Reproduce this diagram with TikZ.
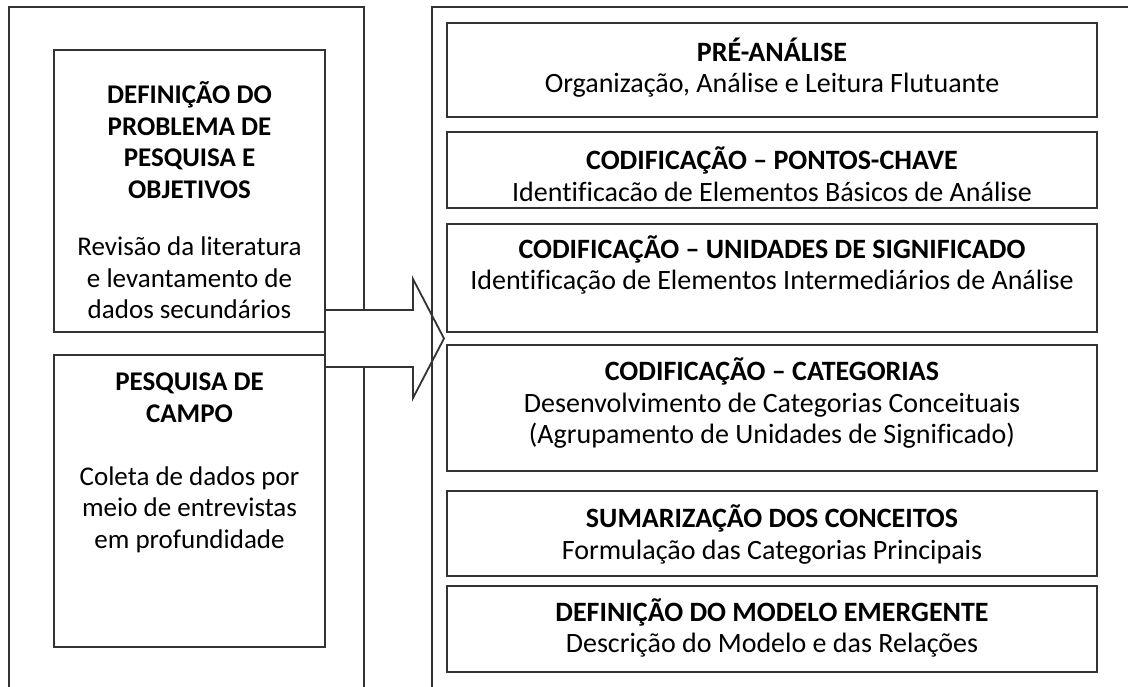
\documentclass[tikz,border=0pt]{standalone}
\usepackage{fontspec}
\setmainfont{Carlito}[Ligatures=CommonOff]
\usetikzlibrary{positioning}

\begin{document}
\begin{tikzpicture}[x=1pt, y=-1pt,
frame/.style={draw=black!80, line width=1.8pt},
box/.style={draw=black!80, line width=1.8pt, inner sep=0pt},
lbox/.style={box, minimum width=271pt},
rbox/.style={box, minimum width=650pt},
txt/.style={align=center, text=black, inner sep=0pt, font=\fontsize{27}{31.5}\selectfont},
rtxt/.style={align=center, text=black, inner sep=0pt, font=\fontsize{28}{31.5}\selectfont}]

\useasboundingbox (0,0) rectangle (1128,687);
\clip (0,0) rectangle (1128,687);

% Left column: research problem and field work
\draw[frame] (9,700) -- (9,7) -- (364,7) -- (364,700);
\node[lbox, minimum height=282pt] (def) at (189.5,191) {};
\node[lbox, minimum height=292pt] (campo) at (189.5,501) {};
\node[txt] (deftxt) at (189.5,200.5) {\textbf{DEFINIÇÃO DO}\\\textbf{PROBLEMA DE}\\\textbf{PESQUISA E}\\\textbf{OBJETIVOS}\\[26pt]Revisão da literatura\\e levantamento de\\dados secundários};
\node[txt] (campotxt) at (189.5,463) {\textbf{PESQUISA DE}\\\textbf{CAMPO}\\[31.6pt]Coleta de dados por\\meio de entrevistas\\em profundidade};

% Block arrow between the columns
\draw[frame, fill=white] (325,310) -- (413,310) -- (413,279) -- (444,338.5)
  -- (413,398) -- (413,367) -- (325,367) -- cycle;

% Right column: analysis steps
\draw[frame] (1140,7) -- (432,7) -- (432,700);
\node[rbox, minimum height=94pt] (pre) at (772,70) {};
\node[rbox, minimum height=76pt] (chave) at (772,170) {};
\node[rbox, minimum height=108pt] (unid) at (772,278) {};
\node[rbox, minimum height=126pt] (categ) at (772,408) {};
\node[rbox, minimum height=85pt] (sumar) at (772,533.5) {};
\node[rbox, minimum height=86pt] (modelo) at (772,629) {};

\node[rtxt] (pretxt) at (772,67.5) {\textbf{PRÉ-ANÁLISE}\\Organização, Análise e Leitura Flutuante};
\node[rtxt] (chavetxt) at (772,174) {\textbf{CODIFICAÇÃO – PONTOS-CHAVE}\\Identificacão de Elementos Básicos de Análise};
\node[rtxt] (unidtxt) at (772,265) {\textbf{CODIFICAÇÃO – UNIDADES DE SIGNIFICADO}\\Identificação de Elementos Intermediários de Análise};
\node[rtxt] (categtxt) at (772,403.5) {\textbf{CODIFICAÇÃO – CATEGORIAS}\\Desenvolvimento de Categorias Conceituais\\(Agrupamento de Unidades de Significado)};
\node[rtxt] (sumartxt) at (772,534.5) {\textbf{SUMARIZAÇÃO DOS CONCEITOS}\\Formulação das Categorias Principais};
\node[rtxt] (modelotxt) at (772,628) {\textbf{DEFINIÇÃO DO MODELO EMERGENTE}\\Descrição do Modelo e das Relações};
\end{tikzpicture}
\end{document}
